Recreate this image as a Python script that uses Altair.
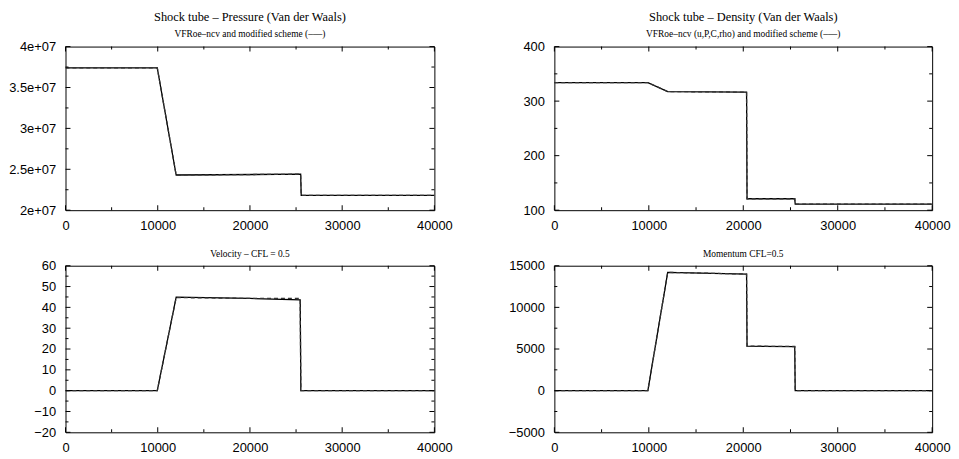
import altair as alt
import pandas as pd

# ---------------- data ----------------
x_major = [0, 10000, 20000, 30000, 40000]
x_minor = [5000, 15000, 25000, 35000]

# Pressure (top-left)
p_x = [0, 9950, 12000, 25500, 25560, 40000]
p_solid = [3.74e7, 3.74e7, 2.43e7, 2.44e7, 2.18e7, 2.18e7]
p_dashed = [3.74e7, 3.74e7, 2.43e7, 2.44e7, 2.18e7, 2.18e7]
p_major = [2.0e7, 2.5e7, 3.0e7, 3.5e7, 4.0e7]
p_minor = [2.25e7, 2.75e7, 3.25e7, 3.75e7]

# Density (top-right)
d_x = [0, 9900, 12000, 20350, 20400, 25450, 25500, 40000]
d_solid = [334, 334, 317.5, 316.5, 121, 121, 111, 111]
d_dashed = [334, 334, 317.5, 316.5, 121, 121, 111, 111]
d_major = [100, 200, 300, 400]
d_minor = [150, 250, 350]

# Velocity (bottom-left)
v_x = [0, 9950, 12000, 20000, 25450, 25520, 40000]
v_solid = [0, 0, 44.9, 44.3, 43.6, 0, 0]
v_dashed = [0, 0, 44.7, 44.3, 44.3, 0, 0]
v_major = [-20, -10, 0, 10, 20, 30, 40, 50, 60]
v_minor = [-15, -5, 5, 15, 25, 35, 45, 55]

# Momentum (bottom-right)
m_x = [0, 9900, 12000, 20350, 20400, 25450, 25500, 40000]
m_solid = [0, 0, 14200, 14000, 5350, 5280, 0, 0]
m_dashed = [0, 0, 14200, 14000, 5350, 5300, 0, 0]
m_major = [-5000, 0, 5000, 10000, 15000]
m_minor = [-2500, 2500, 7500, 12500]

LABEL_FONT = "Liberation Sans"
TITLE_FONT = "Liberation Serif"
MAJOR_LEN = 5
MINOR_LEN = 3


def panel(xs, ys, yd, ymajor, yminor, title, width, height, label_expr=None):
    ymin, ymax = min(ymajor), max(ymajor)
    df = pd.DataFrame({"x": xs, "solid": ys, "dashed": yd})
    xscale = alt.Scale(domain=[0, 40000], nice=False, zero=False)
    yscale = alt.Scale(domain=[ymin, ymax], nice=False, zero=False)
    xaxis = alt.Axis(values=x_major, format="d", labelFlush=False, labelOverlap=False,
                     domain=False, ticks=False, grid=False, labelPadding=9,
                     labelFont=LABEL_FONT, labelFontSize=13, labelColor="black")
    yargs = dict(values=ymajor, labelFlush=False, labelOverlap=False,
                 domain=False, ticks=False, grid=False, labelPadding=10,
                 labelFont=LABEL_FONT, labelFontSize=13, labelColor="black",
                 minExtent=57, maxExtent=57)
    if label_expr:
        yargs["labelExpr"] = label_expr
    else:
        yargs["format"] = "d"
    yaxis = alt.Axis(**yargs)

    def enc(xf, yf):
        return dict(x=alt.X(xf, scale=xscale, axis=xaxis, title=None),
                    y=alt.Y(yf, scale=yscale, axis=yaxis, title=None))

    base = alt.Chart(df)
    layers = [
        base.mark_line(color="black", strokeWidth=1.3, clip=True).encode(**enc("x:Q", "solid:Q")),
        base.mark_line(color="#333333", strokeWidth=1.3, strokeDash=[4, 3], clip=True).encode(
            **enc("x:Q", "dashed:Q")),
    ]

    # inward tick marks on all four sides (major / minor)
    for vals, L in ((x_major, MAJOR_LEN), (x_minor, MINOR_LEN)):
        for yv, sign in ((ymin, -1), (ymax, 1)):
            tdf = pd.DataFrame({"tx": vals, "ty": [yv] * len(vals)})
            layers.append(alt.Chart(tdf).mark_tick(
                orient="vertical", thickness=1, size=L, yOffset=sign * L / 2,
                color="black", opacity=1).encode(**enc("tx:Q", "ty:Q")))
    for vals, L in ((ymajor, MAJOR_LEN), (yminor, MINOR_LEN)):
        for xv, sign in ((0, 1), (40000, -1)):
            tdf = pd.DataFrame({"tx": [xv] * len(vals), "ty": vals})
            layers.append(alt.Chart(tdf).mark_tick(
                orient="horizontal", thickness=1, size=L, xOffset=sign * L / 2,
                color="black", opacity=1).encode(**enc("tx:Q", "ty:Q")))

    return alt.layer(*layers).properties(width=width, height=height, title=title)


def top_title(main, sub):
    return alt.TitleParams(text=main, subtitle=sub, font=TITLE_FONT, fontSize=12.5,
                           fontWeight="normal", color="black", subtitleFont=TITLE_FONT,
                           subtitleFontSize=9.5, subtitleColor="black", subtitlePadding=6,
                           anchor="middle", offset=2)


def bottom_title(main):
    return alt.TitleParams(text=main, font=TITLE_FONT, fontSize=9.5, fontWeight="normal",
                           color="black", anchor="middle", offset=1)


tl = panel(p_x, p_solid, p_dashed, p_major, p_minor,
           top_title("Shock tube \u2013 Pressure (Van der Waals)",
                     "VFRoe\u2013ncv and modified scheme (\u2013\u2013\u2013)"),
           372, 165, label_expr="(datum.value/1e7) + 'e+07'")
tr = panel(d_x, d_solid, d_dashed, d_major, d_minor,
           top_title("Shock tube \u2013 Density (Van der Waals)",
                     "VFRoe\u2013ncv (u,P,C,rho) and modified scheme (\u2013\u2013\u2013)"),
           381, 165)
bl = panel(v_x, v_solid, v_dashed, v_major, v_minor,
           bottom_title("Velocity \u2013 CFL = 0.5"), 372, 168)
br = panel(m_x, m_solid, m_dashed, m_major, m_minor,
           bottom_title("Momentum CFL=0.5"), 381, 168)

chart = alt.concat(tl, tr, bl, br, columns=2, spacing={"row": 56, "column": 121},
                   bounds="flush", align="each").properties(
    padding=0, background="white"
).configure_view(stroke="black", strokeWidth=1)

chart.save("out.html", embed_options={"renderer": "svg", "actions": False})
